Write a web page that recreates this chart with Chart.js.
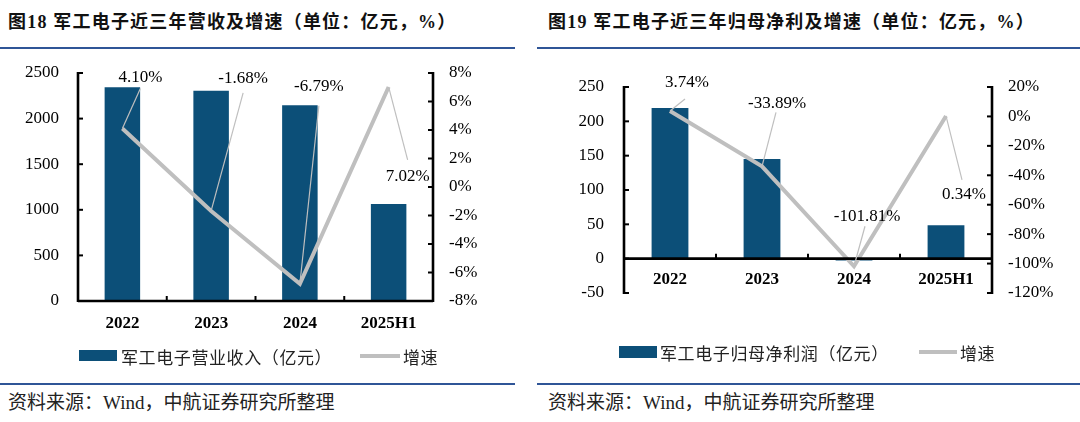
<!DOCTYPE html>
<html><head><meta charset="utf-8">
<script src="https://cdn.jsdelivr.net/npm/chart.js@4.4.1/dist/chart.umd.min.js"></script>
<style>
body{margin:0;width:1080px;height:422px;background:#fff;overflow:hidden;position:relative;font-family:"Liberation Serif","Noto Sans CJK SC",serif;}
.abs{position:absolute;white-space:nowrap;}
.title{font-weight:700;font-size:18px;line-height:22px;top:11px;color:#111;letter-spacing:1.2px;}
.rule{height:2px;background:#2F5597;}
.src{font-size:19px;line-height:22px;top:392px;color:#222;font-family:"Liberation Serif","Noto Sans CJK SC";}
.leg{font-size:17px;line-height:20px;color:#222;font-family:"Noto Sans CJK SC";letter-spacing:0.6px;}
.box{background:#0C4F78;}
.gl{background:#BFBFBF;height:4px;}
canvas{position:absolute;}
</style></head><body>
<div class="abs title" style="left:8px;">图18 军工电子近三年营收及增速（单位：亿元，%）</div>
<div class="abs title" style="left:548px;">图19 军工电子近三年归母净利及增速（单位：亿元，%）</div>
<div class="abs rule" style="left:0;top:47px;width:515px;"></div>
<div class="abs rule" style="left:537px;top:47px;width:543px;"></div>

<canvas id="c1" width="520" height="303" style="left:0;top:38px;width:520px;height:303px;"></canvas>
<canvas id="c2" width="540" height="276" style="left:540px;top:52px;width:540px;height:276px;"></canvas>

<div class="abs box" style="left:79px;top:350px;width:38px;height:11px;"></div>
<div class="abs leg" style="left:121px;top:347px;">军工电子营业收入（亿元）</div>
<div class="abs gl" style="left:360px;top:354px;width:40px;"></div>
<div class="abs leg" style="left:403px;top:347px;">增速</div>

<div class="abs box" style="left:619px;top:346px;width:38px;height:12px;"></div>
<div class="abs leg" style="left:660px;top:343px;">军工电子归母净利润（亿元）</div>
<div class="abs gl" style="left:919px;top:350px;width:38px;"></div>
<div class="abs leg" style="left:960px;top:343px;">增速</div>

<div class="abs rule" style="left:0;top:383px;width:515px;"></div>
<div class="abs rule" style="left:537px;top:383px;width:543px;"></div>
<div class="abs src" style="left:8px;">资料来源：Wind，中航证券研究所整理</div>
<div class="abs src" style="left:548px;">资料来源：Wind，中航证券研究所整理</div>

<script>
// ---- data ----
const categories = ['2022', '2023', '2024', '2025H1'];
const revenue = [2343, 2306, 2146, 1064];
const revenueGrowth = [4.10, -1.68, -6.79, 7.02];
const profit = [219.5, 145.2, -2.6, 48.5];
const profitGrowth = [3.74, -33.89, -101.81, 0.34];
const revenueTicks = [0, 500, 1000, 1500, 2000, 2500];
const revenueGrowthTicks = [-8, -6, -4, -2, 0, 2, 4, 6, 8];
const profitTicks = [-50, 0, 50, 100, 150, 200, 250];
const profitGrowthTicks = [-120, -100, -80, -60, -40, -20, 0, 20];

// label placement (pixel offsets from the point: text dx,dy, leader end dx,dy)
const revLabelOffsets = [[18,-51,18,-40],[32,-132,32,-118],[19,-197,19,-178],[19,90,19,73]];
const profLabelOffsets = [[17,-28,15,-12],[15,-63,14,-54],[13,-50,11,-40],[18,79,16,64]];

const BAR = '#0C4F78', LINE = '#BFBFBF';
Chart.defaults.font.family = '"Liberation Serif", serif';
Chart.defaults.font.size = 17;
Chart.defaults.color = '#000';
Chart.defaults.animation = false;

const axesPlugin = {
  id: 'axesPlugin',
  afterDatasetsDraw(chart) {
    const ctx = chart.ctx, a = chart.chartArea;
    const y = chart.scales.y, y1 = chart.scales.y1, x = chart.scales.x;
    const ln = (x0, y0, x2, y2) => { ctx.beginPath(); ctx.moveTo(x0, y0); ctx.lineTo(x2, y2); ctx.stroke(); };
    ctx.save();
    ctx.strokeStyle = '#000';
    ctx.lineCap = 'butt';
    ctx.lineWidth = 2;
    y.ticks.forEach(t => { const p = y.getPixelForValue(t.value); ln(a.left, p, a.left + 5, p); });
    y1.ticks.forEach(t => { const p = y1.getPixelForValue(t.value); ln(a.right - 5, p, a.right, p); });
    const zy = y.getPixelForValue(0);
    for (let i = 1; i < categories.length; i++) {
      const px = (x.getPixelForValue(i - 1) + x.getPixelForValue(i)) / 2;
      ln(px, zy, px, zy - 5);
    }
    ctx.lineWidth = 2.6;
    ln(a.left, a.top - 1, a.left, a.bottom + 1);
    ln(a.right, a.top - 1, a.right, a.bottom + 1);
    ln(a.left, zy, a.right, zy);
    ctx.restore();
  }
};

const leaderLabels = {
  id: 'leaderLabels',
  afterDatasetsDraw(chart, args, opts) {
    const meta = chart.getDatasetMeta(0);
    const ctx = chart.ctx;
    ctx.save();
    meta.data.forEach((pt, i) => {
      const [tdx, tdy, ldx, ldy] = opts.offsets[i];
      ctx.strokeStyle = LINE; ctx.lineWidth = 1.2;
      ctx.beginPath(); ctx.moveTo(pt.x, pt.y); ctx.lineTo(pt.x + ldx, pt.y + ldy); ctx.stroke();
      ctx.fillStyle = '#000';
      ctx.font = '17px "Liberation Serif"';
      ctx.textAlign = 'center'; ctx.textBaseline = 'middle';
      ctx.fillText(opts.values[i].toFixed(2) + '%', pt.x + tdx, pt.y + tdy);
    });
    ctx.restore();
  }
};

function makeChart(id, bars, growth, barTicks, growthTicks, offsets, geo) {
  return new Chart(document.getElementById(id), {
    type: 'bar',
    data: {
      labels: categories,
      datasets: [
        { type: 'line', data: growth, yAxisID: 'y1', borderColor: LINE, borderWidth: 4,
          pointRadius: 0, tension: 0, order: 0 },
        { type: 'bar', data: bars, yAxisID: 'y', backgroundColor: BAR,
          borderWidth: 0, categoryPercentage: 1, barPercentage: 0.4, order: 1 }
      ]
    },
    options: {
      responsive: false,
      layout: { padding: geo.padding },
      plugins: { legend: { display: false }, tooltip: { enabled: false },
        leaderLabels: { offsets: offsets, values: growth } },
      scales: {
        x: {
          position: geo.xPos,
          grid: { display: false, drawTicks: false }, border: { display: false },
          ticks: { padding: geo.xPad, font: { weight: 'bold', size: 17 }, color: '#000' },
          afterFit: s => { s.height = geo.xHeight; }
        },
        y: {
          position: 'left',
          min: barTicks[0], max: barTicks[barTicks.length - 1],
          afterBuildTicks: s => { s.ticks = barTicks.map(v => ({ value: v })); },
          grid: { display: false, drawTicks: false }, border: { display: false },
          ticks: { padding: geo.yPad, callback: v => String(v) },
          afterFit: s => { s.width = geo.yWidth; }
        },
        y1: {
          position: 'right',
          min: growthTicks[0], max: growthTicks[growthTicks.length - 1],
          afterBuildTicks: s => { s.ticks = growthTicks.map(v => ({ value: v })); },
          grid: { display: false, drawTicks: false }, border: { display: false },
          ticks: { padding: geo.y1Pad, callback: v => v + '%' },
          afterFit: s => { s.width = geo.y1Width; }
        }
      }
    },
    plugins: [axesPlugin, leaderLabels]
  });
}

makeChart('c1', revenue, revenueGrowth, revenueTicks, revenueGrowthTicks, revLabelOffsets,
  { padding: { top: 35, left: 0, right: 0, bottom: 0 }, xPos: 'bottom', xPad: 12, xHeight: 40,
    yPad: 19, yWidth: 78, y1Pad: 16, y1Width: 87 });
makeChart('c2', profit, profitGrowth, profitTicks, profitGrowthTicks, profLabelOffsets,
  { padding: { top: 35, left: 0, right: 0, bottom: 35 }, xPos: { y: 0 }, xPad: 11, xHeight: 0,
    yPad: 20, yWidth: 84, y1Pad: 16, y1Width: 88 });
</script>
</body></html>
